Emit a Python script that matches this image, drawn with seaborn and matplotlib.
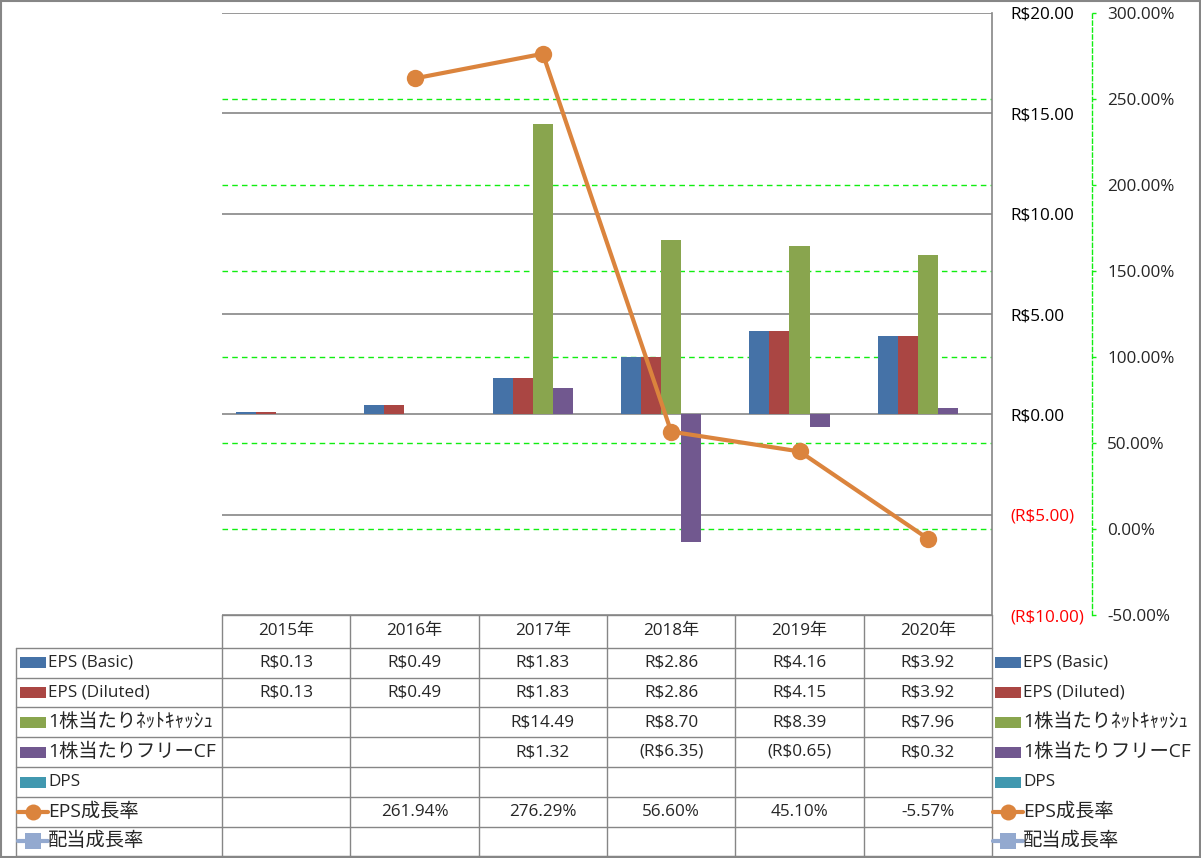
import numpy as np
import pandas as pd
import matplotlib
matplotlib.use("Agg")
import matplotlib.pyplot as plt
import seaborn as sns
from matplotlib.patches import Rectangle
from matplotlib.lines import Line2D

nan = np.nan
years = ['2015年', '2016年', '2017年', '2018年', '2019年', '2020年']
eps_basic = [0.13, 0.49, 1.83, 2.86, 4.16, 3.92]
eps_diluted = [0.13, 0.49, 1.83, 2.86, 4.15, 3.92]
net_cash = [nan, nan, 14.49, 8.70, 8.39, 7.96]
free_cf = [nan, nan, 1.32, -6.35, -0.65, 0.32]
dps = [nan, nan, nan, nan, nan, nan]
eps_growth = [nan, 261.94, 276.29, 56.60, 45.10, -5.57]
div_growth = [nan, nan, nan, nan, nan, nan]

bar_names = ['EPS (Basic)', 'EPS (Diluted)', '1株当たりﾈｯﾄｷｬｯｼｭ', '1株当たりフリーCF', 'DPS']
bar_values = [eps_basic, eps_diluted, net_cash, free_cf, dps]
line_names = ['EPS成長率', '配当成長率']
line_values = [eps_growth, div_growth]

bar_colors = ['#4572A7', '#AA4643', '#89A54E', '#71588F', '#4198AF']
line_colors = ['#DB843D', '#93A9CF']
grid_gray = '#868686'
green = '#11EE11'

sns.set_style('white')
plt.rcParams['font.family'] = ['Open Sans', 'Noto Sans CJK JP', 'DejaVu Sans']
FS = 12.3
FS_CJK = 13.9

W, H = 1201, 858
fig = plt.figure(figsize=(W / 100, H / 100), dpi=100)
L, R, T, B = 222, 992, 13, 615
ax = fig.add_axes([L / W, 1 - B / H, (R - L) / W, (B - T) / H])

# long-form data for bars
rows = []
for name, vals in zip(bar_names, bar_values):
    for y, v in zip(years, vals):
        if not np.isnan(v):
            rows.append({'year': y, 'series': name, 'value': v})
df = pd.DataFrame(rows)

sns.barplot(data=df, x='year', y='value', hue='series', order=years,
            hue_order=bar_names, palette=bar_colors, saturation=1,
            width=0.78, errorbar=None, linewidth=0, legend=False, ax=ax, zorder=3)

ax.set_xlim(-0.5, len(years) - 0.5)
p_lo, p_hi = -50, 300
y_lo, y_hi = -10, 20
ax.set_ylim(y_lo, y_hi)
prim_ticks = np.arange(y_lo, y_hi + 1, 5)


def money(v):
    return f"R${v:,.2f}" if v >= 0 else f"(R${-v:,.2f})"


ax.set_xticks([])
ax.set_xlabel('')
ax.set_ylabel('')
for s in ['top', 'left', 'bottom']:
    ax.spines[s].set_visible(False)
ax.spines['right'].set_color(grid_gray)
ax.spines['right'].set_linewidth(1.2)
ax.set_axisbelow(True)
for v in prim_ticks:
    ax.axhline(v, color=grid_gray, lw=1.2, zorder=1)

sec_ticks = np.arange(p_lo, p_hi + 1, 50)
for t in sec_ticks:
    yy = y_lo + (t - p_lo) / (p_hi - p_lo) * (y_hi - y_lo)
    if p_lo < t < p_hi:
        ax.axhline(yy, color=green, lw=1.0, ls=(0, (4, 3)), zorder=1.5)

# secondary axis with line
ax2 = ax.twinx()
ax2.patch.set_visible(False)

# primary ticks on the right (after twinx, which resets them)
ax.yaxis.tick_right()
ax.set_yticks(prim_ticks)
ax.set_yticklabels([money(v) for v in prim_ticks])
ax.tick_params(axis='y', length=0, pad=13, right=True, labelright=True,
               left=False, labelleft=False, labelsize=FS)
for lab, v in zip(ax.get_yticklabels(), prim_ticks):
    lab.set_color('red' if v < 0 else 'black')

x_idx = np.arange(len(years))
for name, vals, col in zip(line_names, line_values, line_colors):
    ld = pd.DataFrame({'x': x_idx, 'y': vals}).dropna()
    if len(ld):
        sns.lineplot(data=ld, x='x', y='y', ax=ax2, color=col, marker='o',
                     markersize=12.5, markeredgewidth=0, linewidth=3, legend=False)
ax2.set_xlim(-0.5, len(years) - 0.5)
ax2.set_ylim(p_lo, p_hi)
ax2.set_yticks(sec_ticks)
ax2.set_yticklabels([f"{t:.2f}%" for t in sec_ticks])
ax2.tick_params(axis='y', length=3, width=1, color=green, direction='out', pad=8,
                labelsize=FS)
for lab, t in zip(ax2.get_yticklabels(), sec_ticks):
    lab.set_color('red' if t < 0 else 'black')
ax2.set_xlabel('')
ax2.set_ylabel('')
ax2.set_xticks([])
for s in ['top', 'left', 'bottom']:
    ax2.spines[s].set_visible(False)
ax2.spines['right'].set_position(('outward', 72))
ax2.spines['right'].set_color(green)
ax2.spines['right'].set_linestyle((0, (3, 2)))
ax2.spines['right'].set_linewidth(1.0)

# overlay for data table, legend and border
ov = fig.add_axes([0, 0, 1, 1], zorder=-1)
ov.set_xlim(0, W)
ov.set_ylim(H, 0)
ov.axis('off')
ov.patch.set_visible(False)

col_x = [L + i * (R - L) / len(years) for i in range(len(years) + 1)]
row_y = [648, 677.5, 707, 737, 767, 797, 826.5, 856]
lc = dict(color=grid_gray, lw=1.0)
ov.plot([L, R], [615, 615], **lc)
for x in col_x:
    ov.plot([x, x], [615, row_y[-1]], **lc)
for y in row_y:
    ov.plot([16, R], [y, y], **lc)
ov.plot([16, 16], [row_y[0], row_y[-1]], **lc)

for i, yr in enumerate(years):
    ov.text((col_x[i] + col_x[i + 1]) / 2, (615 + 648) / 2, yr, ha='center', va='center', fontsize=FS)


def has_cjk(s):
    return any(ord(c) > 0x2E80 for c in s)


all_names = bar_names + line_names
all_vals = bar_values + line_values
for r, (name, vals) in enumerate(zip(all_names, all_vals)):
    yc = (row_y[r] + row_y[r + 1]) / 2
    is_line = r >= len(bar_names)
    for i, v in enumerate(vals):
        if np.isnan(v):
            continue
        txt = f"{v:.2f}%" if is_line else money(v)
        ov.text((col_x[i] + col_x[i + 1]) / 2, yc, txt, ha='center', va='center', fontsize=FS)
    fs_lab = FS_CJK if has_cjk(name) else FS
    for kx, tx in [(20, 48), (995, 1023)]:
        if not is_line:
            ov.add_patch(Rectangle((kx, yc - 5.5), 26, 11, color=bar_colors[r], lw=0))
        else:
            li = r - len(bar_names)
            mk = 'o' if li == 0 else 's'
            ov.add_line(Line2D([kx - 2, kx + 28], [yc, yc], color=line_colors[li], lw=3))
            ov.add_line(Line2D([kx + 13], [yc], color=line_colors[li], marker=mk,
                               markersize=11.5, markeredgewidth=0))
        ov.text(tx, yc, name, ha='left', va='center', fontsize=fs_lab)

ov.add_patch(Rectangle((0.5, 0.5), W - 1.5, H - 1.5, fill=False, ec=grid_gray, lw=1.5))

fig.savefig('out.png', dpi=100)
